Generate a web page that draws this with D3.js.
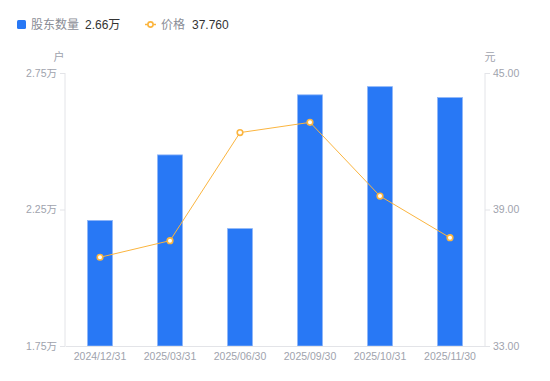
<!DOCTYPE html>
<html><head><meta charset="utf-8">
<script src="https://cdn.jsdelivr.net/npm/d3@7/dist/d3.min.js"></script>
<style>body{margin:0;background:#fff;font-family:"Liberation Sans","Noto Sans CJK SC",sans-serif;}</style>
</head><body><svg id="c" width="550" height="381"></svg>
<script>
const categories = ["2024/12/31","2025/03/31","2025/06/30","2025/09/30","2025/10/31","2025/11/30"];
const holders = [2.21, 2.45, 2.18, 2.67, 2.70, 2.66];
const prices = [36.90, 37.63, 42.38, 42.83, 39.59, 37.76];
const leftTicks = [1.75, 2.25, 2.75];
const rightTicks = [33, 39, 45];

const svg = d3.select("#c");
const m = {l:65, r:485, t:73, b:346};
const x = d3.scaleBand().domain(categories).range([m.l, m.r]);
const yL = d3.scaleLinear().domain([1.75, 2.75]).range([m.b, m.t]);
const yR = d3.scaleLinear().domain([33, 45]).range([m.b, m.t]);
const grey = "#a0a3ad", axisC = "#e3e4e8";
const font = '"Liberation Sans","Noto Sans CJK SC",sans-serif';

svg.append("line").attr("x1",m.l).attr("x2",m.l).attr("y1",m.t).attr("y2",m.b).attr("stroke",axisC);
svg.append("line").attr("x1",m.r).attr("x2",m.r).attr("y1",m.t).attr("y2",m.b).attr("stroke",axisC);

const la = svg.append("g").attr("transform",`translate(${m.l},0)`)
  .call(d3.axisLeft(yL).tickValues(leftTicks).tickSize(5).tickPadding(3).tickFormat(d=>d.toFixed(2)+"万"));
la.select(".domain").remove();
la.selectAll("line").attr("stroke",axisC);
la.selectAll("text").attr("fill",grey).style("font-size","10.5px").style("font-family",font);

const ra = svg.append("g").attr("transform",`translate(${m.r},0)`)
  .call(d3.axisRight(yR).tickValues(rightTicks).tickSize(5).tickPadding(3).tickFormat(d=>d.toFixed(2)));
ra.select(".domain").remove();
ra.selectAll("line").attr("stroke",axisC);
ra.selectAll("text").attr("fill",grey).style("font-size","10.5px").style("font-family",font);

const bw = 25;
svg.append("g").selectAll("rect").data(holders).join("rect")
  .attr("x",(d,i)=>x(categories[i])+x.bandwidth()/2-bw/2)
  .attr("y",d=>yL(d))
  .attr("width",bw)
  .attr("height",d=>m.b-yL(d))
  .attr("fill","#2878f5")
  .attr("stroke","#8fb6f8").attr("stroke-width",0.8);

const ba = svg.append("g").attr("transform",`translate(0,${m.b})`)
  .call(d3.axisBottom(x).tickSize(0).tickPadding(7));
ba.select(".domain").attr("stroke",axisC);
ba.selectAll("text").attr("fill",grey).style("font-size","10.5px").style("font-family",font);

const cx = (i)=>x(categories[i])+x.bandwidth()/2;
const line = d3.line().x((d,i)=>cx(i)).y(d=>yR(d));
svg.append("path").datum(prices).attr("d",line).attr("fill","none").attr("stroke","#fbb53f").attr("stroke-width",1);
svg.append("g").selectAll("circle").data(prices).join("circle")
  .attr("cx",(d,i)=>cx(i)).attr("cy",d=>yR(d)).attr("r",2.8)
  .attr("fill","#fff").attr("stroke","#fbb53f").attr("stroke-width",1.6);

svg.append("text").attr("x",59).attr("y",61).attr("text-anchor","middle").attr("fill",grey).style("font-size","11px").style("font-family",font).text("户");
svg.append("text").attr("x",490).attr("y",61).attr("text-anchor","middle").attr("fill",grey).style("font-size","11px").style("font-family",font).text("元");

const lg = svg.append("g");
lg.append("rect").attr("x",17).attr("y",20).attr("width",9).attr("height",9).attr("rx",1.5).attr("fill","#2878f5");
lg.append("text").attr("x",31).attr("y",29).attr("fill","#8a8d96").style("font-size","12px").style("font-family",font).text("股东数量");
lg.append("text").attr("x",85).attr("y",29).attr("fill","#333").style("font-size","12px").style("font-family",font).text(d3.format(".2f")(holders[5])+"万");
lg.append("line").attr("x1",145).attr("x2",156).attr("y1",24.5).attr("y2",24.5).attr("stroke","#fbb53f").attr("stroke-width",1.5);
lg.append("circle").attr("cx",150.5).attr("cy",24.5).attr("r",2.6).attr("fill","#fff").attr("stroke","#fbb53f").attr("stroke-width",1.6);
lg.append("text").attr("x",161).attr("y",29).attr("fill","#8a8d96").style("font-size","12px").style("font-family",font).text("价格");
lg.append("text").attr("x",192).attr("y",29).attr("fill","#333").style("font-size","12px").style("font-family",font).text(prices[5].toFixed(3));
</script></body></html>
